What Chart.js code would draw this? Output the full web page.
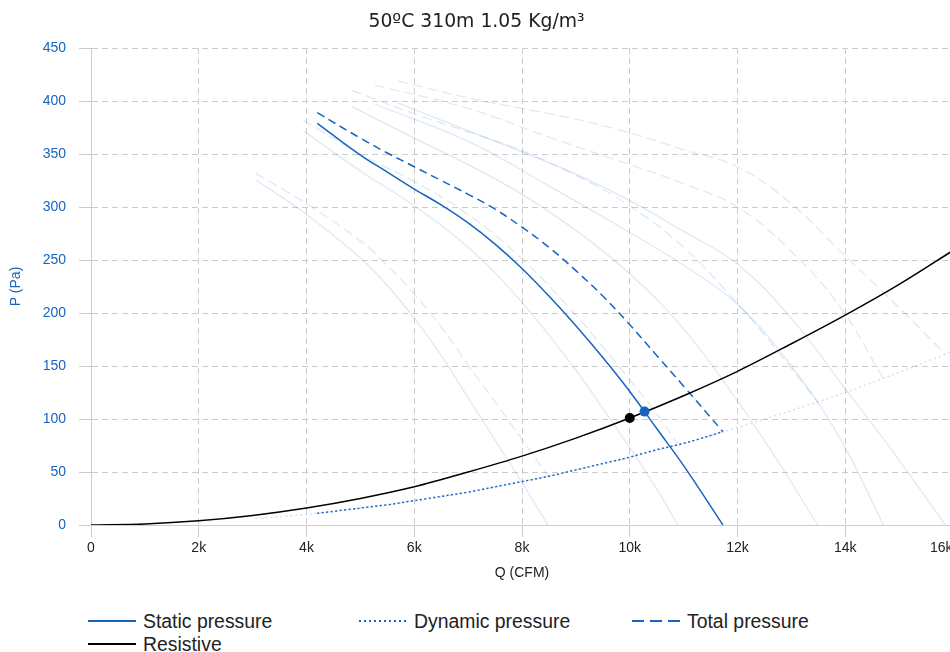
<!DOCTYPE html>
<html>
<head>
<meta charset="utf-8">
<script src="https://cdn.jsdelivr.net/npm/chart.js@4.4.0/dist/chart.umd.min.js"></script>
<style>
  html, body { margin: 0; padding: 0; background: #fff; overflow: hidden; }
  #wrap { position: relative; width: 950px; height: 652px; overflow: hidden; }
  #chart { position: absolute; left: 0; top: 0; }
  .legend-item { position: absolute; height: 22px; display: flex; align-items: center;
    font: 19.4px 'Liberation Sans', Arial, sans-serif; color: #222; white-space: nowrap; }
  .legend-item .swatch { width: 48px; height: 2px; margin-right: 7px; }
</style>
</head>
<body>
<div id="wrap">
  <canvas id="chart" width="980" height="600"></canvas>
  <div id="legend"></div>
</div>
<script>
// Selected fan
const qMain = [4200, 5000, 5500, 6000, 6500, 7000, 7500, 8000, 8500, 9000, 9500, 10000, 10500, 11000, 11730];
const staticMain = [379, 349, 333, 317, 302, 285, 265, 242, 216, 188, 158, 126, 91, 56, 0];
const totalMain = [389, 365, 351, 338, 325, 312, 298, 281, 262, 240, 216, 189, 160, 131, 88];
const dynamicMain = [11, 16, 19, 23, 27, 31, 36, 41, 46, 52, 58, 64, 71, 77, 88];

// Dynamic pressure over the whole range (faint)
const qDynAll = [3050, 4000, 5000, 6000, 7000, 8000, 9000, 10000, 11000, 12000, 13000, 14000, 15000, 16000];
const dynAll = [6, 10, 16, 23, 31, 41, 52, 64, 77, 92, 108, 125, 144, 164];

// System resistance
const qRes = [0, 1000, 2000, 3000, 4000, 5000, 6000, 7000, 8000, 9000, 10000, 11000, 12000, 13000, 14000, 15000, 16000];
const pRes = [0, 1, 4, 9, 16, 25, 36, 50, 65, 82, 101, 122, 145, 171, 198, 227, 259];

// Operating points
const opQ = [10000, 10275];
const opP = [101, 107];

// Other fan curves in the family (faint)
const qA = [3050, 4000, 5000, 5500, 6000, 6500, 7000, 7500, 8000, 8480];
const staticA = [326, 293, 252, 226, 195, 160, 120, 80, 40, 0];
const totalA = [332, 303, 268, 245, 218, 187, 151, 116, 81, 46];

const qB = [3940, 5000, 6000, 7000, 8000, 9000, 9500, 10000, 10500, 10895];
const staticB = [372, 334, 301, 262, 210, 146, 110, 73, 34, 0];
const totalB = [382, 350, 324, 293, 251, 198, 168, 137, 105, 76];

const qC = [4840, 6000, 7000, 8000, 9000, 10000, 11000, 12000, 12700, 13490];
const staticC = [395, 365, 340, 312, 278, 237, 185, 117, 64, 0];
const totalC = [410, 388, 371, 353, 330, 301, 262, 209, 167, 116];

const qD = [5270, 7000, 8500, 10000, 11000, 12000, 13000, 13900, 14710];
const staticD = [397, 362, 320, 276, 245, 208, 150, 82, 0];
const totalD = [415, 393, 366, 340, 322, 300, 258, 206, 138];

const qE = [5700, 7000, 8000, 9000, 10000, 11000, 12000, 13000, 13934, 14900, 15860];
const staticE = [398, 372, 352, 331, 306, 277, 246, 195, 133, 68, 0];
const totalE = [419, 403, 393, 383, 370, 354, 338, 303, 257, 210, 161];

const xTickLabels = ['0', '2k', '4k', '6k', '8k', '10k', '12k', '14k', '16k'];

const BLUE = '#1565c0';
const FAINT = 'rgba(21, 101, 192, 0.14)';

function curve(label, qs, ps, style) {
    return Object.assign({
        label: label,
        data: qs.map((q, i) => ({ x: q, y: ps[i] })),
        pointRadius: 0,
        borderWidth: 1.5,
        fill: false,
        tension: 0.4
    }, style);
}

const faintSolid = { borderColor: FAINT, borderWidth: 1.3 };
const faintDash = { borderColor: FAINT, borderWidth: 1.3, borderDash: [10, 5] };

const datasets = [
    {
        label: 'Operating point',
        data: opQ.map((q, i) => ({ x: q, y: opP[i] })),
        showLine: false,
        pointRadius: 5,
        pointBorderWidth: 0,
        pointBackgroundColor: ['#000000', BLUE],
        borderColor: 'transparent'
    },
    curve('Resistive', qRes, pRes, { borderColor: '#000000', cubicInterpolationMode: 'monotone' }),
    curve('Static pressure', qMain, staticMain, { borderColor: BLUE }),
    curve('Total pressure', qMain, totalMain, { borderColor: BLUE, borderDash: [8, 5] }),
    curve('Dynamic pressure', qMain, dynamicMain, { borderColor: BLUE, borderDash: [2, 2.5], cubicInterpolationMode: 'monotone' }),
    curve('dyn', qDynAll, dynAll, { borderColor: 'rgba(21, 101, 192, 0.22)', borderWidth: 1.3, borderDash: [2, 3], cubicInterpolationMode: 'monotone' }),
    curve('A', qA, staticA, faintSolid),
    curve('A total', qA, totalA, faintDash),
    curve('B', qB, staticB, faintSolid),
    curve('B total', qB, totalB, faintDash),
    curve('C', qC, staticC, faintSolid),
    curve('C total', qC, totalC, faintDash),
    curve('D', qD, staticD, faintSolid),
    curve('D total', qD, totalD, faintDash),
    curve('E', qE, staticE, faintSolid),
    curve('E total', qE, totalE, faintDash)
];

Chart.defaults.font.family = "'Liberation Sans', Arial, sans-serif";

const ctx = document.getElementById('chart').getContext('2d');
const chart = new Chart(ctx, {
    type: 'line',
    data: { datasets: datasets },
    options: {
        responsive: false,
        animation: false,
        layout: { padding: { left: 0, right: 27, top: 0, bottom: 0 } },
        plugins: {
            legend: { display: false },
            tooltip: { enabled: false },
            title: {
                display: true,
                text: '50ºC 310m 1.05 Kg/m³',
                color: '#222',
                font: { family: "'DejaVu Sans', sans-serif", size: 18.8, weight: 'normal' },
                padding: { top: 10.5, bottom: 15 }
            }
        },
        scales: {
            x: {
                type: 'linear',
                min: 0,
                max: 16000,
                afterFit: (scale) => { scale.height = 75; },
                ticks: {
                    stepSize: 2000,
                    color: '#222',
                    font: { size: 14 },
                    padding: 3,
                    maxRotation: 0,
                    // trailing figure spaces push the clipped last label left like the original
                    callback: (v) => xTickLabels[v / 2000] + (v === 16000 ? '\u2007\u2007\u2007' : '')
                },
                grid: { color: '#cccccc', tickLength: 12, tickBorderDash: [] },
                border: { color: '#cccccc', dash: [6, 4] },
                title: {
                    display: true,
                    text: 'Q (CFM)',
                    color: '#222',
                    font: { size: 14 },
                    padding: { top: 0, bottom: 18.6 }
                }
            },
            y: {
                min: 0,
                max: 450,
                afterFit: (scale) => { scale.width = 91; },
                ticks: {
                    stepSize: 50,
                    color: BLUE,
                    font: { size: 14 },
                    padding: 13
                },
                grid: { color: '#cccccc', tickLength: 12, tickBorderDash: [] },
                border: { color: '#cccccc', dash: [6, 4] },
                title: {
                    display: true,
                    text: 'P (Pa)',
                    color: BLUE,
                    font: { size: 14 },
                    padding: { top: 8, bottom: 0 }
                }
            }
        }
    }
});

// HTML legend laid out in fixed columns like the original
const legendItems = [
    { label: 'Static pressure', left: 88, top: 610, swatch: BLUE },
    { label: 'Dynamic pressure', left: 359, top: 610,
      swatch: 'repeating-linear-gradient(to right, ' + BLUE + ' 0 2px, transparent 2px 5px)' },
    { label: 'Total pressure', left: 632, top: 610,
      swatch: 'repeating-linear-gradient(to right, ' + BLUE + ' 0 12px, transparent 12px 18px)' },
    { label: 'Resistive', left: 88, top: 633, swatch: '#000000' }
];
const legendEl = document.getElementById('legend');
legendItems.forEach(item => {
    const div = document.createElement('div');
    div.className = 'legend-item';
    div.style.left = item.left + 'px';
    div.style.top = item.top + 'px';
    const sw = document.createElement('span');
    sw.className = 'swatch';
    sw.style.background = item.swatch;
    div.appendChild(sw);
    div.appendChild(document.createTextNode(item.label));
    legendEl.appendChild(div);
});
</script>
</body>
</html>
